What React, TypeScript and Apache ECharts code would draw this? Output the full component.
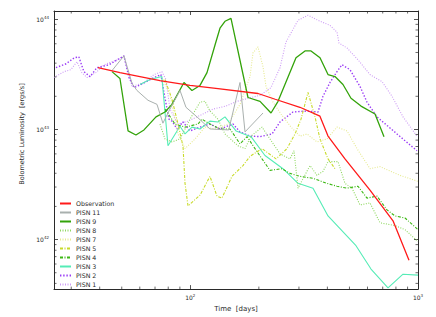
import React, { useEffect, useRef } from "react";
import * as echarts from "echarts";

// ---- data (time in days, luminosity in erg/s) ----
const obsT = [39.3, 49.1, 63.2, 73.6, 99.7, 132.3, 198.3, 236, 303, 371, 402.5, 477.9, 615.4, 776.7, 913];
const obsL = [3.64e43, 3.28e43, 2.96e43, 2.78e43, 2.51e43, 2.35e43, 2.12e43, 1.88e43, 1.59e43, 1.32e43, 8.7e42, 5.4e42, 2.81e42, 1.48e42, 6.5e41];

const p11T = [45.3, 51.1, 55.5, 58.3, 65.2, 71.4, 75.8, 81.4, 90.1, 95.7, 107, 122, 147.5, 165.3, 173.9, 208.6];
const p11L = [3.42e43, 4.66e43, 2.61e43, 2.26e43, 1.84e43, 1.69e43, 1.14e43, 1.53e43, 2.26e43, 1.59e43, 1.3e43, 1.01e43, 9.9e42, 2.67e43, 9.5e42, 1.41e43];

const p9T = [45.3, 49.1, 53.3, 57.7, 62.6, 70.7, 77.4, 83.1, 93.8, 101.7, 110.3, 118.4, 128.4, 135, 142, 150.9, 179.2, 202.4, 226.2, 242.8, 291.2, 319, 338.9, 371.2, 402.5, 432, 468.3, 507.9, 561.9, 647.4, 709.1];
const p9L = [3.35e43, 2.9e43, 9.7e42, 8.9e42, 9.9e42, 1.3e43, 1.44e43, 1.69e43, 2.67e43, 2.26e43, 2.51e43, 3.28e43, 5.85e43, 8.3e43, 9.6e43, 1.02e44, 1.95e43, 1.8e43, 1.41e43, 1.8e43, 4.47e43, 5.16e43, 5.16e43, 4.47e43, 3.15e43, 3.02e43, 2.56e43, 1.92e43, 1.63e43, 1.38e43, 8.6e42];

const p8T = [73.6, 77.4, 83.1, 90.1, 99.7, 110.3, 116.0, 122.0, 132.3, 142.0, 162.0, 173.9, 184.8, 206.5, 223.9, 247.7, 274.1, 285.4, 297.2, 335.5, 360.1, 382.6, 402.5, 445.3, 477.9, 513.1, 556.2, 615.4, 681.0, 792.5, 876.9, 1000];
const p8L = [1.12e43, 8.2e42, 7.7e42, 8.2e42, 1.24e43, 1.77e43, 1.8e43, 1.47e43, 1.24e43, 9.1e42, 7.1e42, 6.7e42, 8.7e42, 1.05e43, 8.2e42, 6.0e42, 5.4e42, 6.4e42, 2.93e42, 4.7e42, 3.83e42, 4.16e42, 5.1e42, 5.1e42, 3.24e42, 2.93e42, 2.06e42, 2.15e42, 1.42e42, 1.34e42, 1.23e42, 9.6e41];

const p7T = [75.8, 81.4, 88.3, 94.8, 104.9, 116.0, 128.4, 146.4, 165.3, 182.9, 188.5, 198.3, 208.6, 215.0, 230.8, 250.2, 276.9, 303.3, 325.5, 360.1, 398.4, 440.8, 487.7, 539.6, 615.4, 681.0, 833.6, 1000];
const p7L = [2.84e43, 2.08e43, 9.1e42, 6.7e42, 8.2e42, 1.05e43, 1.01e43, 1.12e43, 1.69e43, 3.02e43, 4.96e43, 5.61e43, 3.71e43, 2.46e43, 1.77e43, 1.38e43, 1.05e43, 8.7e42, 9.1e42, 7.7e42, 8.2e42, 1.05e43, 9.7e42, 6.7e42, 4.4e42, 4.6e42, 3.83e42, 3.38e42];

const p5T = [77.4, 83.1, 88.3, 92.9, 94.8, 97.7, 110.3, 122.0, 131.0, 137.7, 152.4, 170.4, 182.9, 206.5, 237.9, 265.9, 288.3, 306.4, 328.8, 352.9, 371.2, 402.5, 432.0];
const p5L = [2.84e43, 1.88e43, 1.12e43, 7.0e42, 3.24e42, 2.02e42, 2.53e42, 3.75e42, 2.48e42, 2.38e42, 3.75e42, 4.7e42, 5.7e42, 6.7e42, 5.4e42, 6.7e42, 9.1e42, 1.24e43, 2.17e43, 1.3e43, 8.2e42, 5.4e42, 4.4e42];

const p4T = [77.4, 85.7, 94.8, 108.1, 112.5, 122.0, 135.0, 149.4, 165.3, 177.5, 192.4, 206.5, 223.9, 252.7, 274.1, 303.3, 345.8, 398.4, 440.8, 487.7, 545.1, 597.0, 660.7, 730.9, 792.5, 876.9, 1000];
const p4L = [1.53e43, 1.12e43, 1.05e43, 1.12e43, 1.24e43, 1.12e43, 1.01e43, 1.01e43, 7.4e42, 8.6e42, 6.7e42, 5.4e42, 4.25e42, 4.4e42, 3.99e42, 3.75e42, 3.6e42, 3.24e42, 3.05e42, 2.93e42, 3.05e42, 2.38e42, 2.48e42, 1.86e42, 1.64e42, 1.57e42, 1.23e42];

const p3T = [60.1, 66.5, 75.0, 79.8, 90.1, 94.8, 101.7, 110.3, 122.0, 132.3, 142.0, 158.8, 184.8, 212.8, 255.3, 297.2, 345.8, 402.5, 534.2, 621.7, 738.4, 859.3, 1000];
const p3L = [2.56e43, 2.84e43, 3.02e43, 7.1e42, 1.07e43, 9.1e42, 1.05e43, 1.01e43, 1.19e43, 1.17e43, 1.3e43, 9.7e42, 8.6e42, 5.8e42, 4.4e42, 3.24e42, 2.93e42, 1.64e42, 8.8e41, 5.4e41, 3.64e41, 4.85e41, 4.75e41];

const p2T = [25.7, 28.5, 30.9, 32.4, 34.1, 36.3, 38.9, 44.0, 51.1, 53.8, 56.6, 60.7, 69.3, 74.3, 76.6, 80.6, 83.1, 87.5, 92.9, 99.7, 110.3, 122.0, 135.0, 154.0, 165.3, 182.9, 202.4, 228.5, 247.7, 282.5, 325.5, 363.8, 382.6, 410.7, 440.8, 463.7, 502.8, 556.2, 597.0, 660.7, 808.7, 990];
const p2L = [3.64e43, 3.95e43, 4.47e43, 4.56e43, 3.35e43, 3.02e43, 3.64e43, 3.87e43, 4.66e43, 2.96e43, 2.4e43, 2.56e43, 2.96e43, 3.15e43, 2.17e43, 1.24e43, 1.19e43, 1.01e43, 1.17e43, 9.7e42, 1.05e43, 1.12e43, 1.01e43, 1.12e43, 9.5e42, 8.7e42, 8.6e42, 9.1e42, 1.17e43, 1.44e43, 1.47e43, 1.44e43, 2.0e43, 2.67e43, 3.35e43, 3.87e43, 3.49e43, 2.46e43, 1.77e43, 1.3e43, 9.1e42, 6.4e42];

const p1T = [25.2, 27.9, 29.9, 31.8, 33.4, 35.2, 38.5, 41.8, 47.7, 51.1, 55.5, 62.6, 69.3, 75.0, 78.2, 81.4, 88.3, 97.7, 107.0, 125.8, 143.5, 160.4, 184.8, 202.4, 226.2, 247.7, 263.2, 297.2, 328.8, 363.8, 410.7, 440.8, 449.9, 487.7, 545.1, 615.4, 694.9, 768.9, 859.3, 990];
const p1L = [2.96e43, 3.35e43, 3.49e43, 4.12e43, 3.28e43, 2.96e43, 3.28e43, 3.87e43, 4.29e43, 4.56e43, 2.46e43, 2.67e43, 3.15e43, 3.35e43, 2.84e43, 1.53e43, 1.12e43, 1.19e43, 1.3e43, 1.53e43, 1.63e43, 1.8e43, 1.95e43, 2.04e43, 2.4e43, 3.64e43, 6.22e43, 9.8e43, 1.09e44, 9.8e43, 8.8e43, 7.65e43, 6.09e43, 5.49e43, 4.29e43, 3.15e43, 2.72e43, 2.0e43, 1.3e43, 8.7e42];

const seriesNames = ["Observation", "PISN 11", "PISN 9", "PISN 8", "PISN 7", "PISN 5", "PISN 4", "PISN 3", "PISN 2", "PISN 1"];
const seriesTimes = [obsT, p11T, p9T, p8T, p7T, p5T, p4T, p3T, p2T, p1T];
const seriesLums = [obsL, p11L, p9L, p8L, p7L, p5L, p4L, p3L, p2L, p1L];

// axis ranges and ticks
const xMin = 25.2;
const xMax = 1000;
const yMin = 3.55e41;
const yMax = 1.19e44;
const xMinorTicks = [30, 40, 50, 60, 70, 80, 90, 200, 300, 400, 500, 600, 700, 800, 900];
const yMinorTicks = [4e41, 5e41, 6e41, 7e41, 8e41, 9e41, 2e42, 3e42, 4e42, 5e42, 6e42, 7e42, 8e42, 9e42, 2e43, 3e43, 4e43, 5e43, 6e43, 7e43, 8e43, 9e43];

const xTitle = "Time  [days]";
const yTitle = "Bolometric Luminosity  [ergs/s]";

// ---- styles ----
const styles: Record<string, any> = {
  "Observation": { color: "#ff1a1a", width: 1.3, type: "solid" },
  "PISN 11": { color: "#a9b0ae", width: 1, type: "solid" },
  "PISN 9": { color: "#33a30a", width: 1.3, type: "solid" },
  "PISN 8": { color: "#8fd860", width: 1.1, type: [1, 1.5] },
  "PISN 7": { color: "#e6ea90", width: 1.1, type: [1, 1.5] },
  "PISN 5": { color: "#c8db2a", width: 1.1, type: [3, 1.5, 1, 1.5] },
  "PISN 4": { color: "#3cb814", width: 1.1, type: [3, 1.5, 1, 1.5] },
  "PISN 3": { color: "#55ecb6", width: 1.1, type: "solid" },
  "PISN 2": { color: "#9a3cf6", width: 1.4, type: [1.4, 1.8] },
  "PISN 1": { color: "#cd9cf5", width: 1.1, type: [1, 1.5] },
};

const FONT = "DejaVu Sans";
const AX = "#2a2a2a";

function powLabel(v: number) {
  const e = Math.log10(v);
  const r = Math.round(e);
  if (Math.abs(e - r) > 1e-6) return "";
  return `{b|10}{s|${r}}`;
}

const richLab = {
  b: { fontSize: 6, fontFamily: FONT, color: AX },
  s: { fontSize: 4, fontFamily: FONT, color: AX, verticalAlign: "top", padding: [0, 0, 4, 0] },
};

export default function App() {
  const ref = useRef<HTMLDivElement>(null);
  useEffect(() => {
    if (!ref.current) return;
    const chart = echarts.init(ref.current, null, { renderer: "svg" });
    const lineSeries = seriesNames.map((name, i) => {
      const st = styles[name];
      return {
        name,
        type: "line",
        data: seriesTimes[i].map((t, j) => [t, seriesLums[i][j]]),
        showSymbol: false,
        symbol: "none",
        smooth: false,
        lineStyle: { color: st.color, width: st.width, type: st.type },
        itemStyle: { color: st.color },
        z: 2 + (seriesNames.length - i) * 0.01,
        silent: true,
      };
    });
    const xMinorSeries = {
      type: "custom",
      silent: true,
      z: 10,
      data: xMinorTicks.map((v) => [v, 1e43]),
      renderItem: (params: any, api: any) => {
        const cs = params.coordSys;
        const x = api.coord([api.value(0), 1e43])[0];
        const st = { stroke: AX, lineWidth: 0.7 };
        return {
          type: "group",
          children: [
            { type: "line", shape: { x1: x, y1: cs.y + cs.height, x2: x, y2: cs.y + cs.height - 2.5 }, style: st },
            { type: "line", shape: { x1: x, y1: cs.y, x2: x, y2: cs.y + 2.5 }, style: st },
          ],
        };
      },
    };
    const yMinorSeries = {
      type: "custom",
      silent: true,
      z: 10,
      data: yMinorTicks.map((v) => [100, v]),
      renderItem: (params: any, api: any) => {
        const cs = params.coordSys;
        const y = api.coord([100, api.value(1)])[1];
        const st = { stroke: AX, lineWidth: 0.7 };
        return {
          type: "group",
          children: [
            { type: "line", shape: { x1: cs.x, y1: y, x2: cs.x + 2.5, y2: y }, style: st },
            { type: "line", shape: { x1: cs.x + cs.width, y1: y, x2: cs.x + cs.width - 2.5, y2: y }, style: st },
          ],
        };
      },
    };
    const axisLine = { show: true, lineStyle: { color: AX, width: 1 } };
    const majorTick = { show: true, inside: true, length: 4, lineStyle: { color: AX, width: 0.8 } };
    chart.setOption({
      animation: false,
      backgroundColor: "#ffffff",
      grid: { left: 54, right: 18, top: 11, bottom: 25, containLabel: false },
      legend: {
        data: seriesNames,
        orient: "vertical",
        left: 59,
        top: 200,
        itemWidth: 11,
        itemHeight: 7,
        itemGap: 2,
        padding: 0,
        selectedMode: false,
        itemStyle: { opacity: 0 },
        textStyle: { fontSize: 6.3, fontFamily: FONT, color: AX, lineHeight: 7 },
      },
      xAxis: [
        {
          type: "log",
          min: xMin,
          max: xMax,
          position: "bottom",
          name: xTitle,
          nameLocation: "middle",
          nameGap: 12,
          nameTextStyle: { fontSize: 7, fontFamily: FONT, color: AX },
          axisLine,
          axisTick: majorTick,
          splitLine: { show: false },
          axisLabel: { show: true, margin: 4, formatter: powLabel, rich: richLab },
        },
        {
          type: "log",
          min: xMin,
          max: xMax,
          position: "top",
          axisLine,
          axisTick: majorTick,
          splitLine: { show: false },
          axisLabel: { show: false },
        },
      ],
      yAxis: [
        {
          type: "log",
          min: yMin,
          max: yMax,
          position: "left",
          name: yTitle,
          nameLocation: "middle",
          nameGap: 19,
          nameRotate: 90,
          nameTextStyle: { fontSize: 6.5, fontFamily: FONT, color: AX, padding: [0, 0, 0, 32] },
          axisLine,
          axisTick: majorTick,
          splitLine: { show: false },
          axisLabel: { show: true, margin: 5, formatter: powLabel, rich: richLab },
        },
        {
          type: "log",
          min: yMin,
          max: yMax,
          position: "right",
          axisLine,
          axisTick: majorTick,
          splitLine: { show: false },
          axisLabel: { show: false },
        },
      ],
      series: [...lineSeries, xMinorSeries, yMinorSeries],
    });
    return () => chart.dispose();
  }, []);
  return (
    <div
      ref={ref}
      style={{ position: "fixed", left: 0, top: 0, width: 436, height: 317, background: "#fff" }}
    />
  );
}
